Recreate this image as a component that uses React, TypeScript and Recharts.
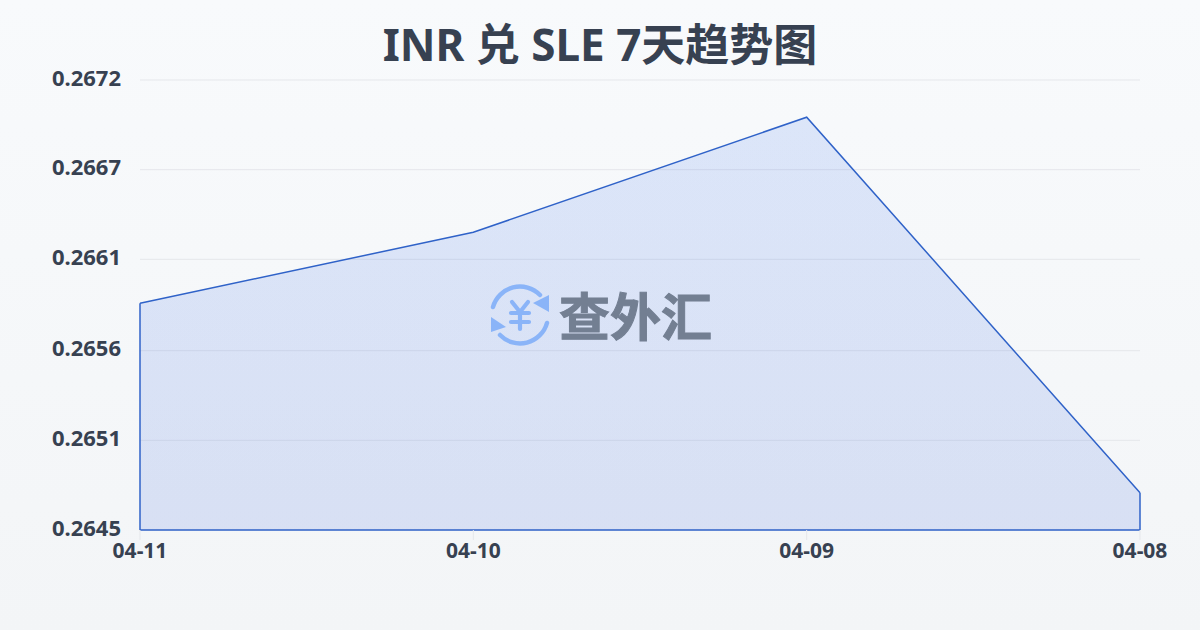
import React from 'react';
import { AreaChart, Area, XAxis, YAxis, CartesianGrid, ReferenceLine } from 'recharts';

const dates = ['04-11', '04-10', '04-09', '04-08'];
const rates = [0.26588, 0.2663, 0.26698, 0.26476];
const yTicks = [0.26454, 0.26507, 0.2656, 0.26614, 0.26667, 0.2672];
const yMin = 0.26454;
const yMax = 0.2672;
const titleText = 'INR 兑 SLE 7天趋势图';
const watermarkText = '查外汇';

const data = dates.map((date, i) => ({ date, rate: rates[i] }));
const fontFamily = '"Noto Sans", "Noto Sans CJK SC", sans-serif';
const lineColor = '#2f62c8';
const logoColor = '#8ab4f8';

function Logo() {
  return (
    <svg width={64} height={64} viewBox="0 0 64 64" style={{ position: 'absolute', left: 488, top: 283 }}>
      <g fill="none" stroke={logoColor} strokeWidth={4.5} strokeLinecap="round" strokeLinejoin="round">
        <path d="M5 24 A28 28 0 0 1 52 12" />
        <path d="M59 40 A28 28 0 0 1 12 52" />
        <path d="M24 19 L32 29 L40 19 M32 29 L32 46 M23 30 L41 30 M23 39 L41 39" strokeWidth={4.2} />
      </g>
      <path d="M61 12 L61 29 L45 20 Z" fill={logoColor} />
      <path d="M3 34 L3 49 L18 44 Z" fill={logoColor} />
    </svg>
  );
}

export default function App() {
  return (
    <div
      style={{
        position: 'absolute',
        left: 0,
        top: 0,
        width: 1200,
        height: 630,
        overflow: 'hidden',
        background: 'linear-gradient(180deg, #f8fafc 0%, #f3f5f7 100%)',
        fontFamily,
      }}
    >
      <AreaChart
        width={1200}
        height={630}
        data={data}
        margin={{ top: 80, right: 60, bottom: 0, left: 0 }}
      >
        <defs>
          <linearGradient id="areaFill" x1="0" y1="0" x2="0" y2="1">
            <stop offset="0%" stopColor="#2563eb" stopOpacity={0.13} />
            <stop offset="100%" stopColor="#1d4ed8" stopOpacity={0.13} />
          </linearGradient>
        </defs>
        <CartesianGrid horizontal vertical={false} stroke="#e5e7eb" strokeWidth={1} />
        <XAxis
          dataKey="date"
          scale="point"
          interval={0}
          height={100}
          axisLine={false}
          tickLine={{ stroke: '#e5e7eb' }}
          tickSize={10}
          tickMargin={3}
          tick={{ fontSize: 21, fontWeight: 700, fill: '#374151', fontFamily }}
        />
        <YAxis
          type="number"
          width={140}
          domain={[yMin, yMax]}
          ticks={yTicks}
          interval={0}
          tickFormatter={(v: number) => v.toFixed(4)}
          axisLine={false}
          tickLine={false}
          tickMargin={13}
          tick={{ fontSize: 22, fontWeight: 700, fill: '#374151', fontFamily, dy: -2 }}
        />
        <Area
          type="linear"
          dataKey="rate"
          baseValue={yMin}
          stroke={lineColor}
          strokeWidth={1.5}
          fill="url(#areaFill)"
          fillOpacity={1}
          dot={false}
          activeDot={false}
          isAnimationActive={false}
        />
        <ReferenceLine
          segment={[{ x: dates[0], y: yMin }, { x: dates[0], y: rates[0] }]}
          stroke={lineColor}
          strokeWidth={1.5}
        />
        <ReferenceLine
          segment={[{ x: dates[3], y: yMin }, { x: dates[3], y: rates[3] }]}
          stroke={lineColor}
          strokeWidth={1.5}
        />
        <ReferenceLine y={yMin} stroke={lineColor} strokeWidth={1.5} />
      </AreaChart>
      <div
        style={{
          position: 'absolute',
          left: 0,
          top: 12,
          width: 1200,
          textAlign: 'center',
          fontSize: 44,
          lineHeight: '64px',
          fontWeight: 700,
          color: '#374151',
        }}
      >
        {titleText}
      </div>
      <Logo />
      <div
        style={{
          position: 'absolute',
          left: 559,
          top: 279,
          fontSize: 51,
          lineHeight: '70px',
          fontWeight: 700,
          color: '#737f92',
          WebkitTextStroke: '1px #737f92',
          fontFamily: '"Noto Sans CJK SC", sans-serif',
          whiteSpace: 'nowrap',
        }}
      >
        {watermarkText}
      </div>
    </div>
  );
}
